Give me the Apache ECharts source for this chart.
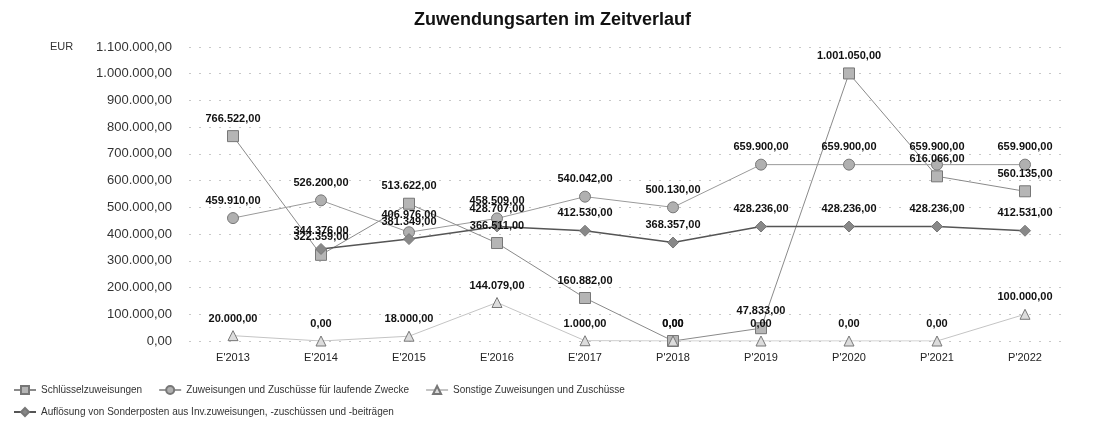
<!DOCTYPE html>
<html>
<head>
<meta charset="utf-8">
<script src="https://cdn.jsdelivr.net/npm/echarts@6/dist/echarts.min.js"></script>
<style>
  html, body { margin: 0; padding: 0; background: #fff; }
  #chart { width: 1105px; height: 428px; }
</style>
</head>
<body>
<div id="chart"></div>
<script>
const years = ["E'2013", "E'2014", "E'2015", "E'2016", "E'2017", "P'2018", "P'2019", "P'2020", "P'2021", "P'2022"];
const schluessel = [766522, 322359, 513622, 366511, 160882, 0, 47833, 1001050, 616066, 560135];
const laufendeZwecke = [459910, 526200, 406976, 458509, 540042, 500130, 659900, 659900, 659900, 659900];
const sonstige = [20000, 0, 18000, 144079, 1000, 0, 0, 0, 0, 100000];
const aufloesung = [null, 344376, 381349, 428707, 412530, 368357, 428236, 428236, 428236, 412531];

const names = [
    'Schlüsselzuweisungen',
    'Zuweisungen und Zuschüsse für laufende Zwecke',
    'Sonstige Zuweisungen und Zuschüsse',
    'Auflösung von Sonderposten aus Inv.zuweisungen, -zuschüssen und -beiträgen'
]

function fmt(v) {
    const parts = Number(v).toFixed(2).split('.')
    return parts[0].replace(/\B(?=(\d{3})+(?!\d))/g, '.') + ',' + parts[1]
}

const font = 'Liberation Sans, Arial, sans-serif'

function makeSeries(name, data, symbol, size, lineColor, markColor, lineWidth) {
    return {
        name: name,
        type: 'line',
        data: data,
        symbol: symbol,
        symbolSize: size,
        showAllSymbol: true,
        lineStyle: { color: lineColor, width: lineWidth },
        itemStyle: { color: markColor, borderColor: '#777', borderWidth: 1 },
        label: {
            show: true,
            position: 'top',
            distance: 6,
            fontFamily: font,
            fontSize: 11,
            fontWeight: 'bold',
            color: '#111',
            formatter: p => fmt(p.value)
        }
    }
}

let chart = echarts.init(document.getElementById('chart'));
chart.setOption({
    animation: false,
    title: {
        text: 'Zuwendungsarten im Zeitverlauf',
        left: 'center',
        top: 6,
        textStyle: { fontFamily: font, fontSize: 18, fontWeight: 'bold', color: '#111' }
    },
    legend: [
        {
            data: names.slice(0, 3),
            left: 8,
            top: 380,
            itemWidth: 22,
            itemHeight: 10,
            itemGap: 16,
            textStyle: { fontFamily: font, fontSize: 10, color: '#333' }
        },
        {
            data: names.slice(3),
            left: 8,
            top: 402,
            itemWidth: 22,
            itemHeight: 10,
            textStyle: { fontFamily: font, fontSize: 10, color: '#333' }
        }
    ],
    grid: { left: 189, right: 36, top: 47, bottom: 87 },
    graphic: [{
        type: 'text',
        left: 50,
        top: 41,
        style: { text: 'EUR', font: '11px ' + font, fill: '#333' }
    }],
    xAxis: {
        type: 'category',
        data: years,
        boundaryGap: true,
        axisLine: { show: false },
        axisTick: { show: false },
        axisLabel: { fontFamily: font, fontSize: 11, color: '#222', margin: 11 }
    },
    yAxis: {
        type: 'value',
        min: 0,
        max: 1100000,
        interval: 100000,
        axisLine: { show: false },
        axisTick: { show: false },
        axisLabel: { fontFamily: font, fontSize: 13, color: '#333', margin: 17, formatter: v => fmt(v) },
        splitLine: { lineStyle: { color: '#c8c8c8', type: [2, 8], width: 1 } }
    },
    series: [
        makeSeries(names[0], schluessel, 'rect', 11, '#8a8a8a', '#b5b5b5', 1),
        makeSeries(names[1], laufendeZwecke, 'circle', 11, '#9a9a9a', '#b0b0b0', 1),
        makeSeries(names[2], sonstige, 'triangle', 10, '#c4c4c4', '#dcdcdc', 1),
        makeSeries(names[3], aufloesung, 'diamond', 11, '#555', '#888', 1.5)
    ]
});
</script>
</body>
</html>
